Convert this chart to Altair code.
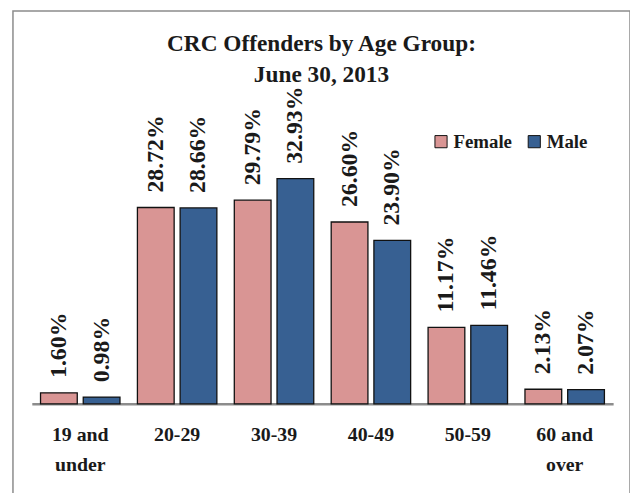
import altair as alt
import pandas as pd

ages = ["19 and under", "20-29", "30-39", "40-49", "50-59", "60 and over"]
female = [1.60, 28.72, 29.79, 26.60, 11.17, 2.13]
male = [0.98, 28.66, 32.93, 23.90, 11.46, 2.07]
genders = ["Female", "Male"]
colors = ["#D99594", "#376092"]
title_lines = ["CRC Offenders by Age Group:", "June 30, 2013"]

rows = []
for a, f, m in zip(ages, female, male):
    rows.append({"age": a, "gender": "Female", "pct": f})
    rows.append({"age": a, "gender": "Male", "pct": m})
df = pd.DataFrame(rows)

FONT = "Liberation Serif"
TXT = "#1a1a1a"
H = 494
BASE = 396

x = alt.X(
    "age:N", sort=ages,
    scale=alt.Scale(range=[19, 605], paddingInner=0.18, paddingOuter=0.09),
    axis=alt.Axis(
        title=None, labelAngle=0, offset=BASE - H, domainColor="#8c8c8c", domainWidth=2.5,
        ticks=False, labelPadding=21, labelFont=FONT, labelFontSize=20,
        labelFontWeight="bold", labelColor=TXT, labelLineHeight=30,
        labelExpr="split(replace(datum.label, ' and ', ' and|'), '|')",
    ),
)
xo = alt.XOffset("gender:N", sort=genders, scale=alt.Scale(paddingInner=0.14, paddingOuter=0))
y = alt.Y("pct:Q", scale=alt.Scale(domain=[0, 57.47], range=[BASE, 0], nice=False, zero=True), axis=None)

base = alt.Chart(df).transform_calculate(label="format(datum.pct, '.2f') + '%'")

bars = base.mark_bar(stroke="#111", strokeWidth=1.3).encode(
    x=x, xOffset=xo, y=y,
    color=alt.Color(
        "gender:N", scale=alt.Scale(domain=genders, range=colors),
        legend=alt.Legend(
            title=None, orient="none", legendX=422, legendY=122, direction="horizontal",
            symbolType="square", symbolSize=150, symbolStrokeColor="#111",
            symbolStrokeWidth=1, labelFont=FONT, labelFontSize=19, labelFontWeight="bold",
            labelColor=TXT, columnPadding=12, labelOffset=3, padding=0, symbolOpacity=1,
        ),
    ),
)

labels = base.mark_text(
    angle=270, align="left", baseline="middle", dx=15, font=FONT, fontSize=24,
    fontWeight="bold", color=TXT,
).encode(x=x, xOffset=xo, y=y, text="label:N")

chart = alt.layer(bars, labels).properties(
    width=622, height=H,
    padding={"left": 5, "top": 1, "right": 0, "bottom": 0},
    title=alt.TitleParams(
        text=title_lines, font=FONT, fontSize=23.5, fontWeight="bold", color=TXT,
        lineHeight=31, anchor="middle", offset=-76, baseline="top",
    ),
).configure_view(stroke="#8c8c8c", strokeWidth=1.5)

chart.save("out.html", embed_options={"renderer": "svg", "actions": False})
